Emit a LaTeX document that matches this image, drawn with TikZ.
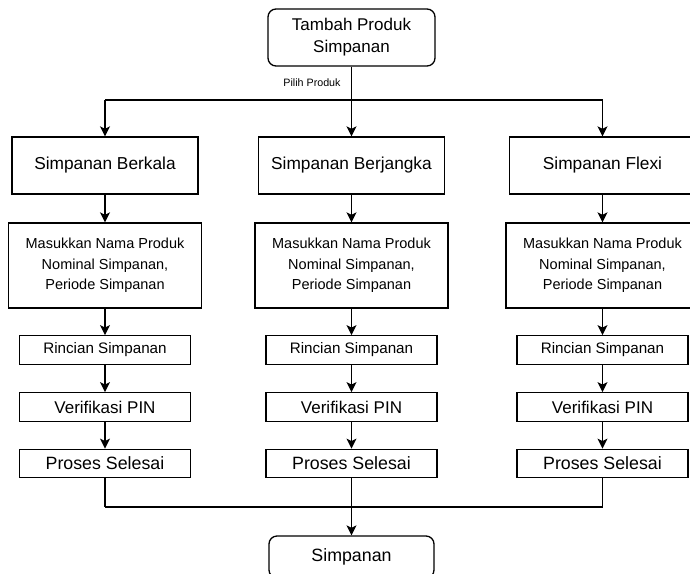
\documentclass[tikz,border=0pt]{standalone}
\usepackage{fontspec}
\setmainfont{Liberation Sans}
\usetikzlibrary{arrows.meta}
\begin{document}
\begin{tikzpicture}[x=1pt,y=-1pt,
  base/.style={draw, line width=1.3pt, inner sep=0pt, align=center},
  topbox/.style={base, rounded corners=8pt, minimum width=167pt, minimum height=57pt, font=\fontsize{17}{22}\selectfont},
  kind/.style={base, minimum width=186pt, minimum height=57pt, font=\fontsize{17.3}{21}\selectfont},
  inputbox/.style={base, minimum width=193pt, minimum height=85pt, font=\fontsize{14.5}{20.5}\selectfont},
  smallbox/.style={base, minimum width=171pt, minimum height=28.5pt},
  conn/.style={line width=1.3pt},
  arr/.style={line width=1.3pt, -{Stealth[length=10pt, width=10pt, inset=2.5pt]}},
  lbl/.style={inner sep=0pt, font=\fontsize{10.7}{12}\selectfont}
]
\clip (0,0) rectangle (690,573);
\fill[white] (0,0) rectangle (690,573);

\node[topbox] (t) at (351.5,37.5) {Tambah Produk\\Simpanan};
\node[lbl] (pl) at (312,83) {Pilih Produk};

\coordinate (hL) at (105,100);
\coordinate (hM) at (351.5,100);
\coordinate (hR) at (602.5,100);

\foreach \i/\x/\name in {1/105/Simpanan Berkala, 2/351.5/Simpanan Berjangka, 3/602.5/Simpanan Flexi}{
  \node[kind] (a\i) at (\x,165.5) {\name};
  \node[inputbox] (b\i) at (\x,265.5) {Masukkan Nama Produk\\Nominal Simpanan,\\Periode Simpanan};
  \node[smallbox, font=\fontsize{15.2}{18}\selectfont] (c\i) at (\x,350) {Rincian Simpanan};
  \node[smallbox, font=\fontsize{17}{20}\selectfont] (d\i) at (\x,407) {Verifikasi PIN};
  \node[smallbox, font=\fontsize{17.8}{20}\selectfont] (e\i) at (\x,463.5) {Proses Selesai};
  \draw[arr] (a\i) -- (b\i);
  \draw[arr] (b\i) -- (c\i);
  \draw[arr] (c\i) -- (d\i);
  \draw[arr] (d\i) -- (e\i);
}

\draw[conn] (t) -- (hM);
\draw[conn] (hL) -- (hR);
\draw[arr] (hL) -- (a1);
\draw[arr] (hM) -- (a2);
\draw[arr] (hR) -- (a3);

\node[base, rounded corners=8pt, minimum width=165pt, minimum height=42pt, font=\fontsize{17.8}{21}\selectfont] (s) at (351.5,557) {Simpanan};

\coordinate (jL) at (105,507);
\coordinate (jR) at (602.5,507);
\draw[conn] (e1) -- (jL);
\draw[conn] (e3) -- (jR);
\draw[conn] (jL) -- (jR);
\draw[arr] (e2) -- (s);
\end{tikzpicture}
\end{document}
